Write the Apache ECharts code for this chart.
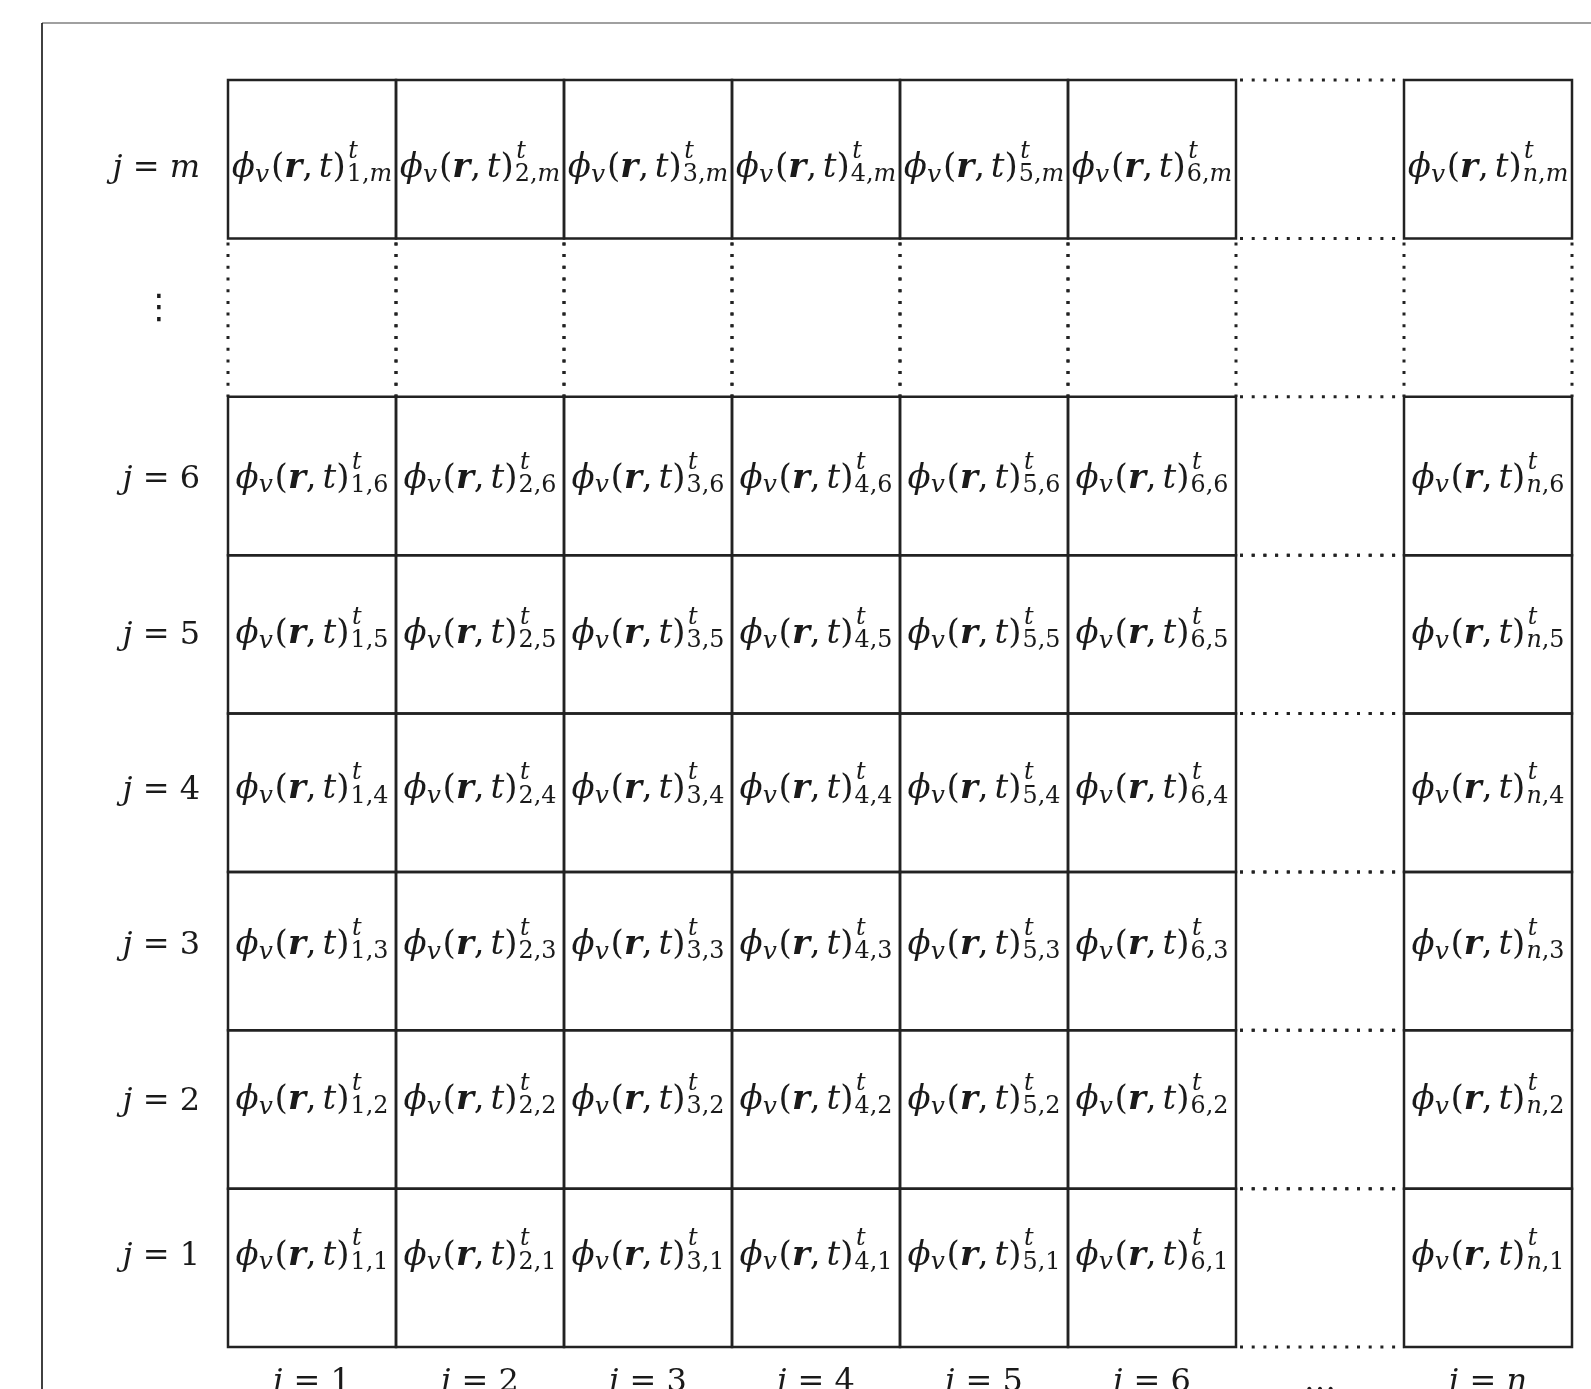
<!DOCTYPE html>
<html><head><meta charset="utf-8">
<script src="https://cdn.jsdelivr.net/npm/echarts@6/dist/echarts.min.js"></script>
<style>html,body{margin:0;padding:0;background:#fff}#c{width:1591px;height:1389px}</style>
</head><body><div id="c"></div>
<script>
// ---- data ----
const colKeys = ['1','2','3','4','5','6','…','n'];
const rowKeys = ['1','2','3','4','5','6','⋮','m'];
const xTickLabels = ['i = 1','i = 2','i = 3','i = 4','i = 5','i = 6','…','i = n'];
const yTickLabels = ['j = 1','j = 2','j = 3','j = 4','j = 5','j = 6','⋮','j = m'];
const cellSymbol = ['ϕ','v','(','r',',','t',')'];
const cellSuper = 't';

// ---- helpers ----
const FF = 'DejaVu Serif';
const INK = '#1a1a1a';
const LINE = '#222';
const ctx = document.createElement('canvas').getContext('2d');
function meas(t, st, w, size, fam) {
  ctx.font = `${st||'normal'} ${w||'normal'} ${size}px "${fam||FF}"`;
  return ctx.measureText(t).width;
}
ctx.font = `normal normal 100px "${FF}"`;
ctx.textBaseline = 'middle';
const kMid = (ctx.measureText('H').actualBoundingBoxDescent || 34.6) / 100;
ctx.textBaseline = 'alphabetic';
const isLetter = c => /[a-z]/i.test(c);

function textEl(text, x, baseline, p) {
  return {type:'text', silent:true, style:{text, x, y: baseline - kMid*p.size,
    fontSize:p.size, fontFamily:p.fam||FF, fontStyle:p.st||'normal', fontWeight:p.w||'normal',
    fill:INK, align:'left', verticalAlign:'middle'}};
}
function cellPieces(iKey, jKey, S) {
  const s = S*0.7;
  return {
    run: [
      {t:cellSymbol[0], st:'italic', size:S, dy:0},
      {t:cellSymbol[1], st:'italic', size:s*1.05, dy:0.14*S},
      {t:cellSymbol[2], size:S, dy:0, gb:0.05*S},
      {t:cellSymbol[3], st:'italic', w:'bold', size:S, dy:0},
      {t:cellSymbol[4], size:S, dy:0, ga:0.17*S},
      {t:cellSymbol[5], st:'italic', size:S, dy:0},
      {t:cellSymbol[6], size:S, dy:0}
    ],
    sup: [{t:cellSuper, st:'italic', size:s}],
    sub: [{t:iKey, st:isLetter(iKey)?'italic':'normal', size:s},
          {t:',', size:s},
          {t:jKey, st:isLetter(jKey)?'italic':'normal', size:s}]
  };
}
function pw(p){ return meas(p.t, p.st, p.w, p.size, p.fam); }
function cellWidth(P, S) {
  let w = 0; P.run.forEach(p => { w += (p.gb||0) + pw(p) + (p.ga||0); });
  const supW = P.sup.reduce((a,p)=>a+pw(p),0), subW = P.sub.reduce((a,p)=>a+pw(p),0);
  return w + 0.03*S + Math.max(supW, subW);
}
function buildCell(iKey, jKey, S, cx, B) {
  const P = cellPieces(iKey, jKey, S);
  const total = cellWidth(P, S);
  let x = cx - total/2; const els = [];
  P.run.forEach(p => { x += (p.gb||0); els.push(textEl(p.t, x, B + p.dy, p)); x += pw(p) + (p.ga||0); });
  x += 0.03*S;
  let xs = x + 0.04*S; P.sup.forEach(p => { els.push(textEl(p.t, xs, B - 0.56*S, p)); xs += pw(p); });
  xs = x; P.sub.forEach(p => { els.push(textEl(p.t, xs, B + 0.12*S, p)); xs += pw(p); });
  return els;
}
const S = (function(){ const w = cellWidth(cellPieces('1','6',30),30); return 30*153/w; })();
const L = 32;
const drift = k => 7 - 3*k;

const solid = {fill:'none', stroke:LINE, lineWidth:2.5};
const dotted = {fill:'none', stroke:LINE, lineWidth:3, lineDash:[3, 8.7], lineCap:'butt'};

const cellData = [];
colKeys.forEach((c, ci) => rowKeys.forEach((r, ri) => cellData.push([ci, ri])));

function renderCell(params, api) {
  const ci = api.value(0), ri = api.value(1);
  const ctr = api.coord([ci, ri]); const sz = api.size([1, 1]);
  const w = sz[0], h = sz[1];
  const x0 = ctr[0]-w/2, x1 = ctr[0]+w/2, y0 = ctr[1]-h/2, y1 = ctr[1]+h/2;
  const gapCol = colKeys[ci] === '…', gapRow = rowKeys[ri] === '⋮';
  const ch = [];
  if (!gapCol && !gapRow) {
    ch.push({type:'rect', shape:{x:x0, y:y0, width:w, height:h}, style:solid});
    const k = rowKeys.length - 1 - ri;
    const B = ctr[1] + drift(k) + 0.315*S;
    buildCell(colKeys[ci], rowKeys[ri], S, ctr[0], B).forEach(e => ch.push(e));
  } else if (gapRow && !gapCol) {
    ch.push({type:'line', shape:{x1:x0, y1:y0+4, x2:x0, y2:y1}, style:dotted});
    ch.push({type:'line', shape:{x1:x1, y1:y0+4, x2:x1, y2:y1}, style:dotted});
  } else if (gapCol && !gapRow) {
    ch.push({type:'line', shape:{x1:x0+4, y1:y0, x2:x1, y2:y0}, style:dotted});
    ch.push({type:'line', shape:{x1:x0+4, y1:y1, x2:x1, y2:y1}, style:dotted});
  }
  return {type:'group', children:ch};
}

function renderRowLabel(params, api) {
  const ri = api.value(1);
  const ctr = api.coord([0, ri]);
  const key = rowKeys[ri];
  const xr = params.coordSys.x - 28;
  if (key === '⋮') {
    return {type:'text', silent:true, style:{text:'⋮', x:159, y:ctr[1]-8, fontSize:34,
      fontFamily:'DejaVu Sans', fill:INK, align:'center', verticalAlign:'middle'}};
  }
  const k = rowKeys.length - 1 - ri;
  const B = ctr[1] + drift(k) + 0.35*L;
  const pcs = [{t:'j', st:'italic', size:L}, {t:' = ', size:L}, {t:key, st:isLetter(key)?'italic':'normal', size:L}];
  const tw = pcs.reduce((a,p)=>a+pw(p),0);
  let x = xr - tw; const ch = [];
  pcs.forEach(p => { ch.push(textEl(p.t, x, B, p)); x += pw(p); });
  return {type:'group', children:ch};
}

const chart = echarts.init(document.getElementById('c'), null, {renderer:'canvas'});
chart.setOption({
  backgroundColor:'#fff',
  animation:false,
  graphic:[
    {type:'line', shape:{x1:42, y1:23, x2:1600, y2:23}, style:{stroke:'#808080', lineWidth:1.6}, z:0},
    {type:'line', shape:{x1:42, y1:23, x2:42, y2:1400}, style:{stroke:'#111', lineWidth:1.6}, z:0}
  ],
  grid:{left:228, right:19, top:80, bottom:42, containLabel:false, outerBoundsMode:'none'},
  xAxis:{type:'category', data:colKeys, axisLine:{show:false}, axisTick:{show:false}, splitLine:{show:false},
    axisLabel:{margin:20, interval:0, hideOverlap:false,
      formatter:(v, idx) => {
        const k = colKeys[idx];
        if (k === '…') return '{n|…}';
        const lab = xTickLabels[idx].split(' = ');
        return '{it|' + lab[0] + '}{n| = }{' + (isLetter(lab[1])?'it':'n') + '|' + lab[1] + '}';
      },
      rich:{
        it:{fontFamily:FF, fontStyle:'italic', fontSize:L, lineHeight:L, color:INK},
        n:{fontFamily:FF, fontSize:L, lineHeight:L, color:INK}
      }}},
  yAxis:{type:'category', data:rowKeys, axisLine:{show:false}, axisTick:{show:false}, splitLine:{show:false},
    axisLabel:{show:false}},
  series:[
    {type:'custom', name:'cells', renderItem:renderCell, data:cellData, encode:{x:0, y:1}, clip:false, silent:true},
    {type:'custom', name:'rowLabels', renderItem:renderRowLabel, data:rowKeys.map((k,i)=>[0,i]), encode:{x:0, y:1}, clip:false, silent:true}
  ]
});
</script></body></html>
